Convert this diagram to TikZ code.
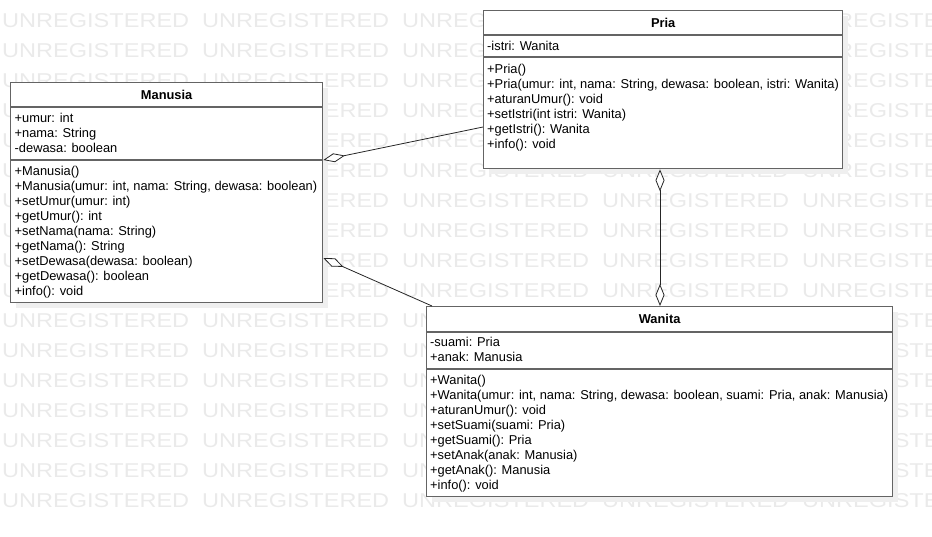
\documentclass[tikz,border=0pt]{standalone}
\usepackage{fontspec}
\usepackage{graphicx}
\setmainfont{Liberation Sans}
\usetikzlibrary{arrows.meta,calc,shadows}
\definecolor{wmgray}{HTML}{EAEAEA}
\definecolor{framegray}{HTML}{646464}
\definecolor{shadegray}{HTML}{EFEFEF}

\begin{document}
\begin{tikzpicture}[x=1pt,y=-1pt,
  classbox/.style={draw=framegray, line width=1.3pt, fill=white, inner sep=0pt,
    anchor=north west,
    drop shadow={shadow xshift=5pt, shadow yshift=-5pt, fill=shadegray, opacity=1, draw=none}},
  divider/.style={draw=framegray, line width=1.3pt},
  classname/.style={inner sep=0pt, font=\fontsize{12.85}{15}\selectfont\bfseries},
  member/.style={inner sep=0pt, anchor=base west, font=\fontsize{12.85}{15}\selectfont},
  wmtext/.style={inner sep=0pt, anchor=base west, text=wmgray, font=\fontsize{20}{20}\selectfont},
  assoc/.style={draw=black!85, line width=0.8pt}
]
\useasboundingbox (0,0) rectangle (932,536);

% background watermark rows
\begin{scope}
\clip (0,0) rectangle (932,536);
\foreach \r in {0,...,16}{
  \foreach \k in {0,...,4}{
    \node[wmtext] (wm-\r-\k) at (2+200*\k, 27+30*\r) {\scalebox{1.177}[1]{UNREGISTERED}};
  }
}
\end{scope}

% ---------- Manusia ----------
\node[classbox, minimum width=312pt, minimum height=220pt] (manusia) at (10,82) {};
\draw[divider] ($(manusia.north west)+(0,25)$) -- ($(manusia.north east)+(0,25)$);
\draw[divider] ($(manusia.north west)+(0,78)$) -- ($(manusia.north east)+(0,78)$);
\node[classname] (manusia-name) at ($(manusia.north)+(0,13)$) {Manusia};
\foreach \t [count=\i from 0] in {{+umur: int},{+nama: String},{-dewasa: boolean}}
  \node[member] (manusia-at\i) at ($(manusia.north west)+(4.5,40+15*\i)$) {\t};
\foreach \t [count=\i from 0] in {{+Manusia()},
  {+Manusia(umur: int, nama: String, dewasa: boolean)},
  {+setUmur(umur: int)},{+getUmur(): int},{+setNama(nama: String)},
  {+getNama(): String},{+setDewasa(dewasa: boolean)},{+getDewasa(): boolean},
  {+info(): void}}
  \node[member] (manusia-op\i) at ($(manusia.north west)+(4.5,93+15*\i)$) {\t};

% ---------- Pria ----------
\node[classbox, minimum width=359pt, minimum height=158pt] (pria) at (483,10) {};
\draw[divider] ($(pria.north west)+(0,25)$) -- ($(pria.north east)+(0,25)$);
\draw[divider] ($(pria.north west)+(0,47)$) -- ($(pria.north east)+(0,47)$);
\node[classname] (pria-name) at ($(pria.north)+(0,13)$) {Pria};
\node[member] (pria-at0) at ($(pria.north west)+(4,40)$) {-istri: Wanita};
\foreach \t [count=\i from 0] in {{+Pria()},
  {+Pria(umur: int, nama: String, dewasa: boolean, istri: Wanita)},
  {+aturanUmur(): void},{+setIstri(int istri: Wanita)},
  {+getIstri(): Wanita},{+info(): void}}
  \node[member] (pria-op\i) at ($(pria.north west)+(4,63+15*\i)$) {\t};

% ---------- Wanita ----------
\node[classbox, minimum width=466pt, minimum height=190pt] (wanita) at (426,306) {};
\draw[divider] ($(wanita.north west)+(0,26)$) -- ($(wanita.north east)+(0,26)$);
\draw[divider] ($(wanita.north west)+(0,63)$) -- ($(wanita.north east)+(0,63)$);
\node[classname] (wanita-name) at ($(wanita.north)+(0,13)$) {Wanita};
\foreach \t [count=\i from 0] in {{-suami: Pria},{+anak: Manusia}}
  \node[member] (wanita-at\i) at ($(wanita.north west)+(4,40+15*\i)$) {\t};
\foreach \t [count=\i from 0] in {{+Wanita()},
  {+Wanita(umur: int, nama: String, dewasa: boolean, suami: Pria, anak: Manusia)},
  {+aturanUmur(): void},{+setSuami(suami: Pria)},{+getSuami(): Pria},
  {+setAnak(anak: Manusia)},{+getAnak(): Manusia},{+info(): void}}
  \node[member] (wanita-op\i) at ($(wanita.north west)+(4,78+15*\i)$) {\t};

% ---------- aggregations ----------
\coordinate (pria-left)   at ($(pria.north west)+(0,117)$);
\coordinate (man-upper)   at ($(manusia.north east)+(0,78)$);
\coordinate (wan-corner)  at ($(wanita.north west)+(6,0)$);
\coordinate (man-lower)   at ($(manusia.north east)+(0,176)$);
\coordinate (pria-bottom) at ($(pria.south west)+(177,0)$);
\coordinate (wan-top)     at (pria-bottom |- wanita.north);

\draw[assoc, -{Diamond[length=22pt, width=9pt, fill=white]}] (pria-left) -- (man-upper);
\draw[assoc, -{Diamond[length=22pt, width=9pt, fill=white]}] (wan-corner) -- (man-lower);
\draw[assoc, {Diamond[length=22pt, width=9pt, fill=white]}-{Diamond[length=22pt, width=9pt, fill=white]}] (pria-bottom) -- (wan-top);
\end{tikzpicture}
\end{document}
